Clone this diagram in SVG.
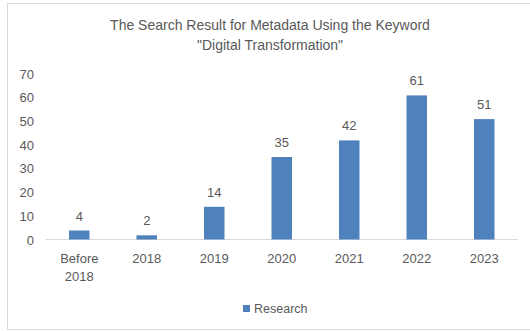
<svg xmlns="http://www.w3.org/2000/svg" width="530" height="331" viewBox="0 0 530 331">
<style>
text{font-family:"Liberation Sans",Arial,sans-serif;fill:#595959}
.t{font-size:14px}
.n{font-size:13px;text-anchor:middle}
.y{font-size:13px;text-anchor:end}
.bar{fill:#4F81BD}
</style>
<rect x="0" y="0" width="530" height="331" fill="#ffffff"/>
<rect x="7.5" y="3.5" width="530" height="326" fill="none" stroke="#d9d9d9" stroke-width="1"/>
<g id="title">
<text class="t" x="270" y="30" text-anchor="middle">The Search Result for Metadata Using the Keyword</text>
<text class="t" x="270" y="50" text-anchor="middle">"Digital Transformation"</text>
</g>
<g id="y-axis">
<text class="y" x="34" y="78.5">70</text>
<text class="y" x="34" y="102.2">60</text>
<text class="y" x="34" y="125.9">50</text>
<text class="y" x="34" y="149.6">40</text>
<text class="y" x="34" y="173.3">30</text>
<text class="y" x="34" y="197">20</text>
<text class="y" x="34" y="220.7">10</text>
<text class="y" x="34" y="244.5">0</text>
</g>
<g id="connectors">
<line x1="45.5" y1="239.5" x2="518" y2="239.5" stroke="#d9d9d9" stroke-width="1"/>
</g>
<g id="bars">
<g id="bar-before2018"><rect class="bar" x="69" y="230.5" width="20.5" height="9"/><text class="n" x="79.3" y="220.5">4</text></g>
<g id="bar-2018"><rect class="bar" x="136.5" y="235.3" width="20.5" height="4.2"/><text class="n" x="146.8" y="225.3">2</text></g>
<g id="bar-2019"><rect class="bar" x="204" y="206.8" width="20.5" height="32.7"/><text class="n" x="214.3" y="196.8">14</text></g>
<g id="bar-2020"><rect class="bar" x="271.5" y="157" width="20.5" height="82.5"/><text class="n" x="281.8" y="147">35</text></g>
<g id="bar-2021"><rect class="bar" x="339" y="140.4" width="20.5" height="99.1"/><text class="n" x="349.3" y="130.4">42</text></g>
<g id="bar-2022"><rect class="bar" x="406.5" y="95.4" width="20.5" height="144.1"/><text class="n" x="416.8" y="85.4">61</text></g>
<g id="bar-2023"><rect class="bar" x="474" y="119.1" width="20.5" height="120.4"/><text class="n" x="484.3" y="109.1">51</text></g>
</g>
<g id="x-axis">
<text class="n" x="79.3" y="262.7">Before</text>
<text class="n" x="79.3" y="280.5">2018</text>
<text class="n" x="146.8" y="262.7">2018</text>
<text class="n" x="214.3" y="262.7">2019</text>
<text class="n" x="281.8" y="262.7">2020</text>
<text class="n" x="349.3" y="262.7">2021</text>
<text class="n" x="416.8" y="262.7">2022</text>
<text class="n" x="484.3" y="262.7">2023</text>
</g>
<g id="legend">
<rect class="bar" x="243" y="305" width="7" height="7"/>
<text x="254" y="312.5" font-size="12.5">Research</text>
</g>
</svg>
